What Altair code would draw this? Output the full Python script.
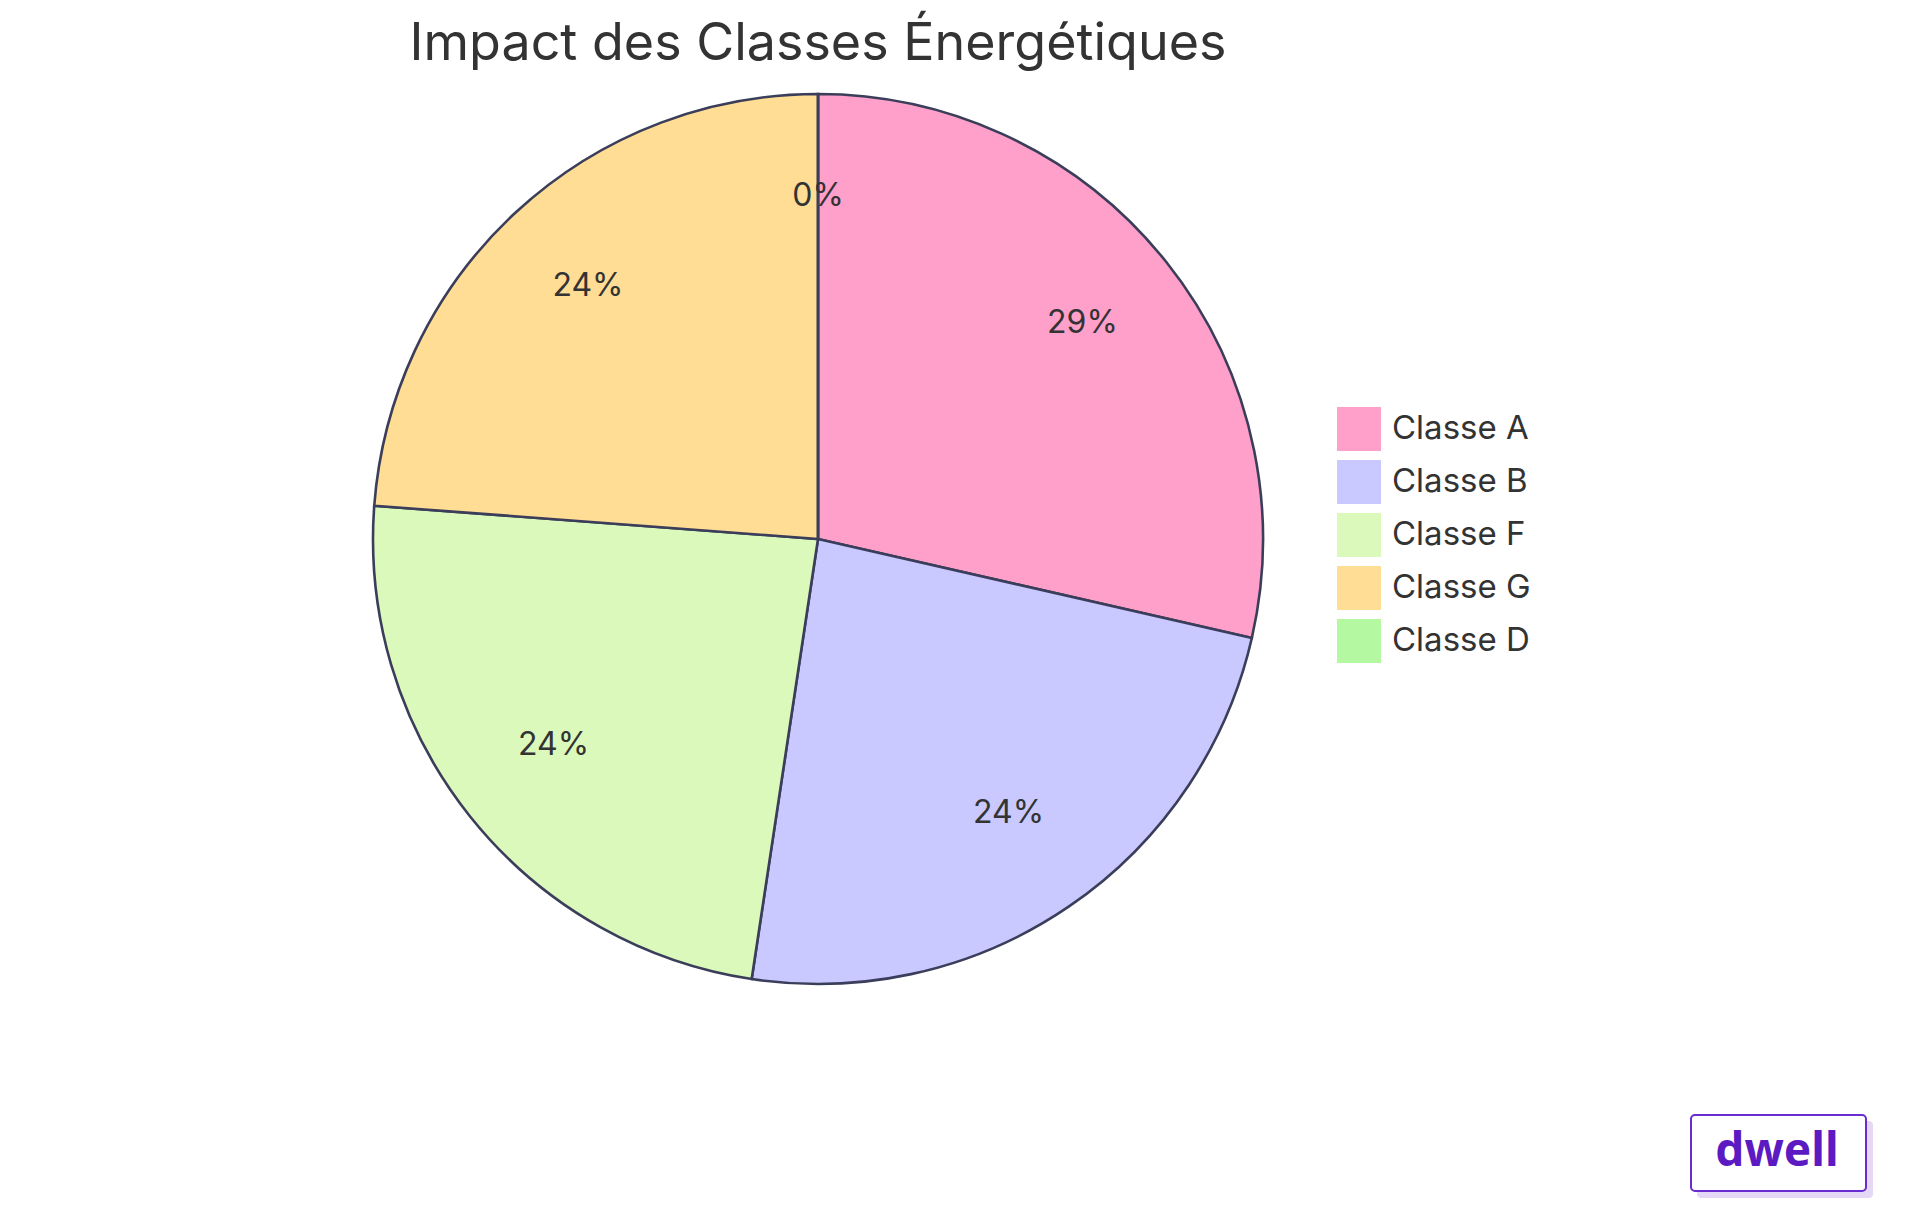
import altair as alt
import pandas as pd

categories = ["Classe A", "Classe B", "Classe F", "Classe G", "Classe D"]
values = [6, 5, 5, 5, 0]
colors = ["#FFA0CB", "#C9C9FF", "#DBF9BA", "#FFDD94", "#B4F8A2"]
title_text = "Impact des Classes Énergétiques"

total = sum(values)
df = pd.DataFrame({
    "cat": categories,
    "val": values,
    "ord": list(range(len(categories))),
    "pct": [f"{round(v / total * 100)}%" for v in values],
})

W, H = 1904, 1199
CX, CY = 810, 531
R = 445
FONT = "Inter"

base = alt.Chart(df).encode(
    theta=alt.Theta("val:Q", stack=True),
    order=alt.Order("ord:Q"),
)

color = alt.Color(
    "cat:N",
    scale=alt.Scale(domain=categories, range=colors),
    legend=alt.Legend(
        title=None,
        orient="none",
        legendX=1328,
        legendY=398,
        symbolType="square",
        symbolSize=2025,
        symbolStrokeColor="#ffffff",
        symbolStrokeWidth=1,
        symbolOpacity=1,
        labelFont=FONT,
        labelFontSize=33,
        labelColor="#333333",
        labelOffset=10,
        rowPadding=3,
    ),
)

arcs = base.mark_arc(radius=R, stroke="#3B3E5A", strokeWidth=2.6, opacity=1).encode(
    color=color,
    x=alt.value(CX),
    y=alt.value(CY),
)

labels = base.mark_text(radius=R * 0.76, font=FONT, fontSize=32, color="#333333", dy=-5).encode(
    text="pct:N",
    x=alt.value(CX),
    y=alt.value(CY),
)

title_df = pd.DataFrame({"t": [title_text]})
title = alt.Chart(title_df).mark_text(
    font=FONT, fontSize=52, color="#333333", baseline="alphabetic", align="center"
).encode(text="t:N", x=alt.value(810), y=alt.value(52))

logo_df = pd.DataFrame({"t": ["dwell"]})
shadow = alt.Chart(logo_df).mark_rect(color="#E4D8F6", cornerRadius=4).encode(
    x=alt.value(1689), x2=alt.value(1865), y=alt.value(1113), y2=alt.value(1190)
)
box = alt.Chart(logo_df).mark_rect(
    fill="#ffffff", stroke="#6A2BD0", strokeWidth=2, cornerRadius=4
).encode(
    x=alt.value(1683), x2=alt.value(1858), y=alt.value(1107), y2=alt.value(1183)
)
logo_text = alt.Chart(logo_df).mark_text(
    font="Noto Sans", fontSize=46, fontWeight="bold", color="#5B1AC2",
    baseline="alphabetic", align="center"
).encode(text="t:N", x=alt.value(1769), y=alt.value(1158))

chart = alt.layer(arcs, labels, title, shadow, box, logo_text).properties(
    width=W, height=H,
    autosize=alt.AutoSizeParams(type="none"),
    padding=0,
).configure_view(stroke=None)

chart.save("out.html", embed_options={"renderer": "svg", "actions": False})
